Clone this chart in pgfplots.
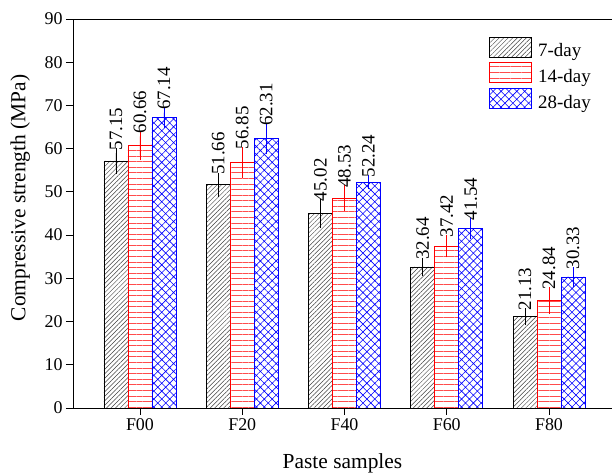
\documentclass[border=0pt]{standalone}
\usepackage{pgfplots}
\pgfplotsset{compat=1.18}
\usepackage{pgfplotstable}
\usepackage{fontspec}
\setmainfont{Liberation Serif}
\usetikzlibrary{patterns.meta}

\pgfplotstableread{
x y err
0 57.15 1.8
1 51.66 1.6
2 45.02 2.2
3 32.64 1.0
4 21.13 0.8
}\sevenday
\pgfplotstableread{
x y err
0 60.66 2.2
1 56.85 2.4
2 48.53 1.8
3 37.42 1.4
4 24.84 1.9
}\fourteenday
\pgfplotstableread{
x y err
0 67.14 1.2
1 62.31 2.3
2 52.24 0.5
3 41.54 1.2
4 30.33 1.1
}\twentyeightday

\pgfplotsset{
  mylegend/.style={legend image code/.code={\draw[##1, line width=0.9pt] (0bp,-6bp) rectangle (42bp,14bp);}},
}

\begin{document}
\begin{tikzpicture}
\begin{axis}[
  scale only axis, width=539bp, height=389bp,
  xmin=-0.655, xmax=4.616, ymin=0, ymax=90,
  axis x line=box, axis y line=left, axis line style={-, line width=0.9pt},
  xtick pos=left, ytick pos=left,
  tick align=outside, major tick length=7bp,
  tick style={line width=0.9pt, black},
  xtick={0,1,2,3,4}, xticklabels={F00,F20,F40,F60,F80},
  ytick={0,10,...,90},
  ybar=0pt, bar width=24bp,
  /pgf/number format/assume math mode=true,
  tick label style={font=\fontsize{18}{20}\selectfont},
  label style={font=\fontsize{21.5}{24}\selectfont},
  xlabel={Paste samples}, ylabel={Compressive strength (MPa)},
  xlabel style={at={(axis description cs:0.5,0)}, anchor=base, yshift=-60bp},
  ylabel style={at={(axis description cs:-0.098,0.54)}, anchor=center, rotate=0},
  nodes near coords={\pgfmathprintnumber[fixed,fixed zerofill,precision=2]{\pgfplotspointmeta}},
  visualization depends on={\thisrow{err} \as \myerr},
  every node near coord/.append style={yshift={\myerr*4.3222bp+1.5bp}, rotate=90, anchor=west, inner sep=1bp, black, font=\fontsize{19}{21}\selectfont},
  legend style={draw=none, fill=none, at={(0.772,0.955)}, anchor=north west,
    font=\fontsize{19}{21}\selectfont, row sep=2bp, inner sep=0pt,
    nodes={inner sep=2bp}},
  legend cell align=left,
]
\coordinate (O) at (rel axis cs:0,0);
\addplot[mylegend, bar shift=-24bp, draw=black, line width=0.8pt,
  pattern={Lines[angle=45,distance=3.2pt,line width=0.5pt]}, pattern color=black!75,
  error bars/.cd, y dir=both, y explicit,
  error bar style={black, line width=0.8pt},
  error mark options={black, mark size=5bp, line width=0.8pt}]
  table[x=x, y=y, y error=err]{\sevenday};
\addlegendentry{\hspace{4bp}7-day}
\addplot[mylegend, bar shift=0bp, draw=red, line width=0.8pt,
  pattern={Lines[angle=0,distance=5.6pt,line width=0.7pt]}, pattern color=red!70,
  error bars/.cd, y dir=both, y explicit,
  error bar style={red, line width=0.8pt},
  error mark options={red, mark size=5bp, line width=0.8pt}]
  table[x=x, y=y, y error=err]{\fourteenday};
\addlegendentry{\hspace{4bp}14-day}
\addplot[mylegend, bar shift=24bp, draw=blue, line width=0.8pt,
  pattern={Hatch[angle=45,distance=5.6pt,line width=0.6pt]}, pattern color=blue,
  error bars/.cd, y dir=both, y explicit,
  error bar style={blue, line width=0.8pt},
  error mark options={blue, mark size=5bp, line width=0.8pt}]
  table[x=x, y=y, y error=err]{\twentyeightday};
\addlegendentry{\hspace{4bp}28-day}
\end{axis}
\pgfresetboundingbox
\path (O) ++(-73bp,-66bp) rectangle ++(612bp,474bp);
\end{tikzpicture}
\end{document}
